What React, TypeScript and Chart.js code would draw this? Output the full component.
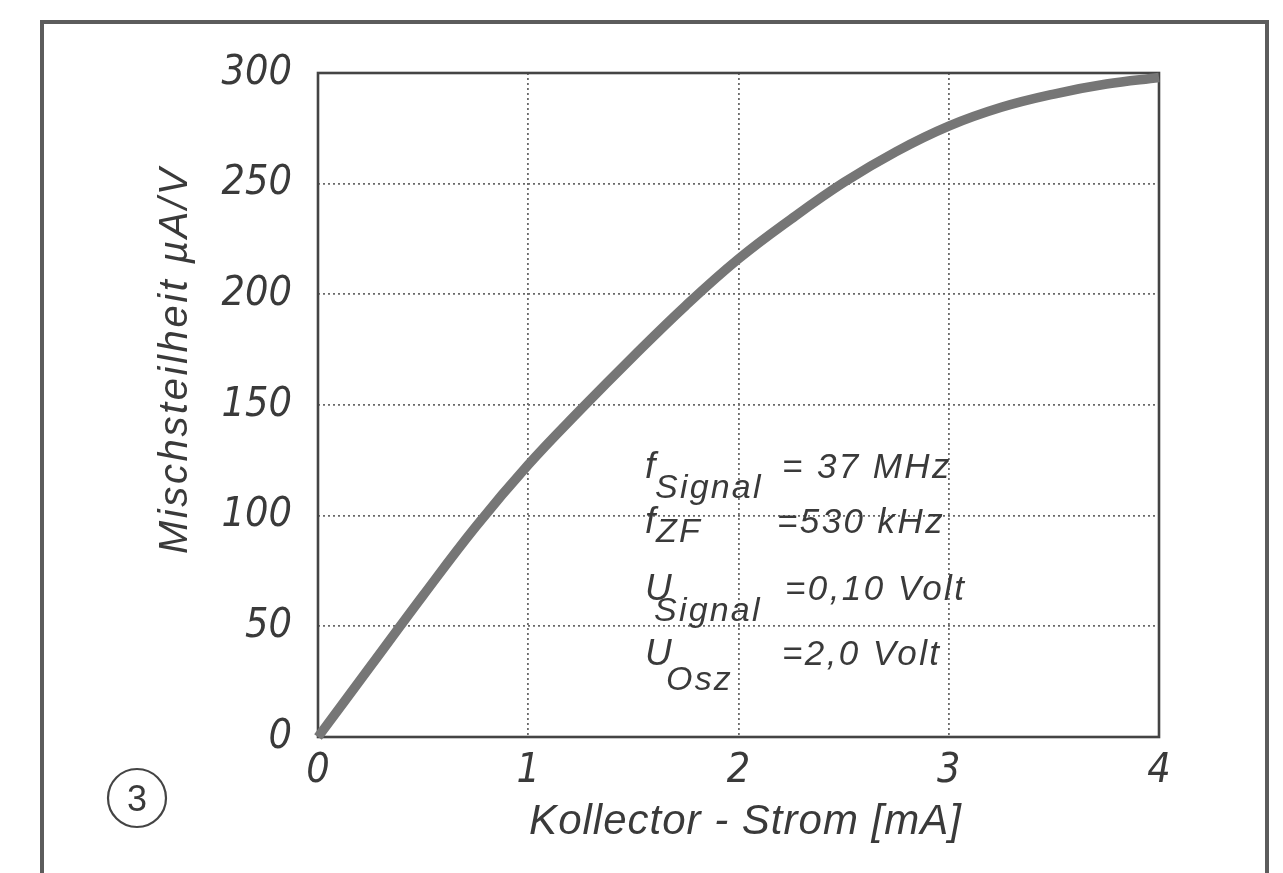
import React, { useEffect, useRef } from "react";
import { Chart, registerables } from "chart.js";

Chart.register(...registerables);

// ---- data ----
const kollektorStromMA = [0, 0.25, 0.5, 0.75, 1, 1.25, 1.5, 1.75, 2, 2.25, 2.5, 2.75, 3, 3.25, 3.5, 3.75, 4];
const mischsteilheitUAV = [0, 32, 64, 95, 123, 148, 172, 195, 216, 234, 250.5, 264.5, 276, 284.5, 290.5, 295, 298];

const xTickValues = [0, 1, 2, 3, 4];
const yTickValues = [0, 50, 100, 150, 200, 250, 300];

const xAxisTitle = "Kollector - Strom [mA]";
const yAxisTitle = "Mischsteilheit µA/V";
const figureNumber = "3";

const conditionSymbols = ["f", "f", "U", "U"];
const conditionSubscripts = ["Signal", "ZF", "Signal", "Osz"];
const conditionValues = ["= 37 MHz", "=530 kHz", "=0,10 Volt", "=2,0 Volt"];

const INK = "#3a3a3a";
const SANS = "'Liberation Sans', 'DejaVu Sans', sans-serif";

// find a narrow face for the tall, condensed digits of the drawing
function pickNarrowFont(): { family: string; weight?: string; size: number } {
  const c = document.createElement("canvas").getContext("2d");
  const probe = "300 250 0123456789";
  if (c) {
    const names = [
      "Liberation Sans Narrow",
      "Arial Narrow",
      "Noto Sans Condensed",
      "DejaVu Sans Condensed",
      "Roboto Condensed",
      "Open Sans Condensed",
    ];
    for (const n of names) {
      c.font = `italic 40px '${n}', monospace`;
      const a = c.measureText(probe).width;
      c.font = `italic 40px '${n}', serif`;
      const b = c.measureText(probe).width;
      if (Math.abs(a - b) < 0.01) return { family: `'${n}', ${SANS}`, size: 41 };
    }
    for (const n of ["Noto Sans", "Open Sans", "Roboto"]) {
      c.font = `italic 40px '${n}'`;
      const a = c.measureText(probe).width;
      c.font = `italic condensed 40px '${n}'`;
      const b = c.measureText(probe).width;
      if (b < a * 0.95) return { family: `'${n}', ${SANS}`, weight: "condensed", size: 41 };
    }
  }
  return { family: SANS, size: 37 };
}

function spacedText(
  ctx: CanvasRenderingContext2D,
  text: string,
  x: number,
  y: number,
  font: string,
  spacing: number,
  align: CanvasTextAlign = "left"
) {
  ctx.save();
  ctx.font = font;
  (ctx as any).letterSpacing = spacing + "px";
  ctx.textAlign = align;
  ctx.textBaseline = "alphabetic";
  ctx.fillStyle = INK;
  ctx.fillText(text, x, y);
  ctx.restore();
}

const paperPlugin = {
  id: "paper",
  beforeDraw(chart: any) {
    const ctx: CanvasRenderingContext2D = chart.ctx;
    ctx.save();
    ctx.fillStyle = "#ffffff";
    ctx.fillRect(0, 0, chart.width, chart.height);
    // outer figure frame
    ctx.strokeStyle = "#5c5c5c";
    ctx.lineWidth = 4;
    ctx.strokeRect(42, 22, 1225, 900);
    // figure number in a circle
    ctx.lineWidth = 2.2;
    ctx.strokeStyle = "#444";
    ctx.beginPath();
    ctx.arc(137, 798, 29, 0, Math.PI * 2);
    ctx.stroke();
    ctx.restore();
    spacedText(ctx, figureNumber, 137, 811, `36px ${SANS}`, 0, "center");
  },
  beforeDatasetsDraw(chart: any) {
    const { ctx, chartArea } = chart;
    ctx.save();
    ctx.strokeStyle = "#444";
    ctx.lineWidth = 2.6;
    ctx.strokeRect(chartArea.left, chartArea.top, chartArea.right - chartArea.left, chartArea.bottom - chartArea.top);
    ctx.restore();
  },
  afterDraw(chart: any) {
    const ctx: CanvasRenderingContext2D = chart.ctx;
    const area = chart.chartArea;
    // y axis title (rotated)
    ctx.save();
    ctx.translate(187, 360);
    ctx.rotate(-Math.PI / 2);
    spacedText(ctx, yAxisTitle, 0, 0, `italic 40px ${SANS}`, 2.6, "center");
    ctx.restore();
    // x axis title
    spacedText(ctx, xAxisTitle, (area.left + area.right) / 2 + 7, 834, `italic 42px ${SANS}`, 1, "center");
    // operating conditions
    const mainY = [478, 533, 600, 665];
    const subDy = [20, 9, 21, 25];
    const subDx = [10, 11, 9, 21];
    const valX = [782, 777, 785, 782];
    for (let i = 0; i < conditionSymbols.length; i++) {
      spacedText(ctx, conditionSymbols[i], 645, mainY[i], `italic 37px ${SANS}`, 0);
      spacedText(ctx, conditionSubscripts[i], 645 + subDx[i], mainY[i] + subDy[i], `italic 34px ${SANS}`, 2.2);
      spacedText(ctx, conditionValues[i], valX[i], mainY[i], `italic 35px ${SANS}`, 2.4);
    }
  },
};

export default function App() {
  const canvasRef = useRef<HTMLCanvasElement | null>(null);

  useEffect(() => {
    if (!canvasRef.current) return;
    const narrow = pickNarrowFont();
    const tickFont: any = { family: narrow.family, size: narrow.size, style: "italic" };
    if (narrow.weight) tickFont.weight = narrow.weight;
    const chart = new Chart(canvasRef.current, {
      type: "line",
      data: {
        datasets: [
          {
            label: "Mischsteilheit",
            data: kollektorStromMA.map((x, i) => ({ x, y: mischsteilheitUAV[i] })),
            borderColor: "#767676",
            borderWidth: 9.5,
            borderCapStyle: "butt",
            borderJoinStyle: "round",
            pointRadius: 0,
            tension: 0.4,
            fill: false,
            clip: 8,
          },
        ],
      },
      options: {
        animation: false,
        responsive: false,
        devicePixelRatio: 1,
        layout: { padding: { top: 73, right: 124, left: 0, bottom: 0 } },
        plugins: {
          legend: { display: false },
          tooltip: { enabled: false },
          title: { display: false },
        },
        scales: {
          x: {
            type: "linear",
            min: 0,
            max: 4,
            afterFit(scale: any) {
              scale.height = 136;
            },
            afterBuildTicks(scale: any) {
              scale.ticks = xTickValues.map((v) => ({ value: v }));
            },
            ticks: {
              autoSkip: false,
              maxRotation: 0,
              padding: 10,
              color: INK,
              font: tickFont,
              callback: (v: any) => String(v),
            },
            grid: { color: "#6a6a6a", lineWidth: 1.8, drawTicks: false },
            border: { display: false, dash: [2, 3] },
          },
          y: {
            type: "linear",
            min: 0,
            max: 300,
            afterFit(scale: any) {
              scale.width = 318;
            },
            afterBuildTicks(scale: any) {
              scale.ticks = yTickValues.map((v) => ({ value: v }));
            },
            ticks: {
              autoSkip: false,
              padding: 26,
              color: INK,
              font: tickFont,
              callback: (v: any) => String(v),
            },
            grid: { color: "#6a6a6a", lineWidth: 1.8, drawTicks: false },
            border: { display: false, dash: [2, 3] },
          },
        },
      },
      plugins: [paperPlugin],
    } as any);
    return () => chart.destroy();
  }, []);

  return (
    <div style={{ position: "absolute", left: 0, top: 0, width: 1283, height: 873, background: "#fff" }}>
      <canvas ref={canvasRef} width={1283} height={873} style={{ display: "block", width: 1283, height: 873 }} />
    </div>
  );
}
